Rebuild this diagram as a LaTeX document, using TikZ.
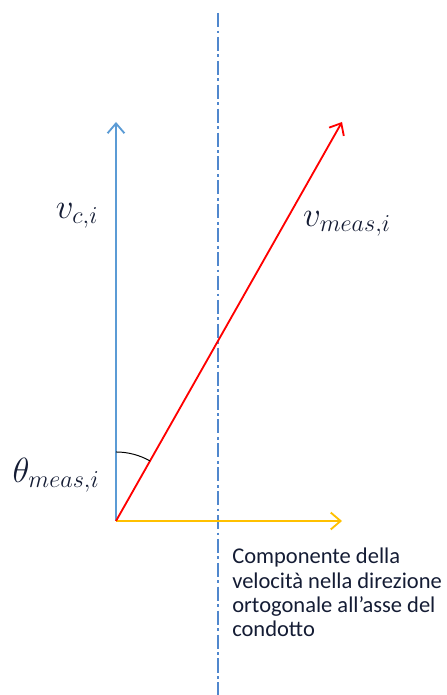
\documentclass[tikz,border=0pt]{standalone}
\usepackage{amsmath}
\usepackage{fontspec}
\usetikzlibrary{arrows.meta}
\newfontfamily\calibrilike{Carlito}
\definecolor{axisblue}{RGB}{91,155,213}
\definecolor{measred}{RGB}{255,0,0}
\definecolor{compyellow}{RGB}{255,192,0}
\definecolor{dashblue}{RGB}{80,135,205}
\definecolor{inkblue}{RGB}{20,28,52}

\begin{document}
\begin{tikzpicture}[x=0.025cm, y=0.025cm,
  vec/.style={-{Straight Barb[length=7pt,width=12pt]}, line width=1.3pt},
  lbl/.style={font=\fontsize{23}{25}\selectfont, color=inkblue, inner sep=0pt}]
  \useasboundingbox (0,0) rectangle (446,695);
  \coordinate (O) at (116,174);
  \coordinate (vc) at (116,573);
  \coordinate (vm) at (342,573);
  \coordinate (vo) at (342,174);
  \coordinate (axtop) at (218,682);
  \coordinate (axbot) at (218,0);
  \draw[dashblue, line width=0.8pt, dash pattern=on 10pt off 2.5pt on 2pt off 2.5pt] (axtop) -- (axbot);
  \draw[vec, axisblue] (O) -- (vc);
  \draw[vec, compyellow] (O) -- (vo);
  \draw[vec, measred] (O) -- (vm);
  \draw[black, line width=0.7pt] ([shift={(90:1.725cm)}]O) arc[start angle=90, end angle=60.5, radius=1.725cm];
  \node[lbl] (lvc) at (77,479) {$v_{c,i}$};
  \node[lbl] (lvm) at (347,471) {$v_{meas,i}$};
  \node[lbl] (lth) at (56,220) {$\theta_{meas,i}$};
  \node[anchor=north west, align=left, inner sep=0pt, font=\calibrilike\fontsize{16}{17.3}\selectfont, color=inkblue] (note) at (232,147) {Componente della\\velocità nella direzione\\ortogonale all’asse del\\condotto};
\end{tikzpicture}
\end{document}
